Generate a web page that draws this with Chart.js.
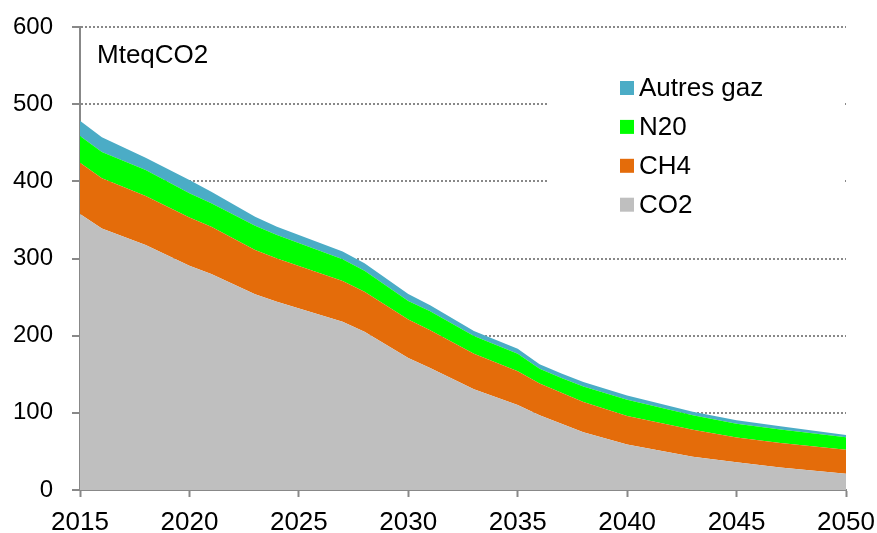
<!DOCTYPE html>
<html>
<head>
<meta charset="utf-8">
<script src="https://cdn.jsdelivr.net/npm/chart.js@4"></script>
<style>
	body { margin: 0; background: #fff; }
</style>
</head>
<body>
<canvas id="graph" width="877" height="533"></canvas>
<script>
// values (MteqCO2)
const years = [2015, 2016, 2018, 2020, 2021, 2023, 2024, 2027, 2028, 2030, 2031, 2033, 2035, 2036, 2037, 2038, 2040, 2043, 2045, 2047, 2050];
const co2 = [357.6, 339, 317.5, 290.7, 280, 253.6, 244, 218, 205, 171, 158, 130.5, 110, 97, 86, 75, 59, 43, 36, 29, 21];
const ch4 = [66.4, 65, 63.5, 62.3, 61, 57.4, 56, 53, 52, 50, 49, 46, 44, 41, 40, 39, 37, 35, 32, 32, 31];
const n2o = [34.7, 34, 33.7, 31.5, 30.5, 31.5, 30.4, 28, 27, 24, 24.5, 23.1, 22.5, 19, 19, 20, 21, 19, 18, 17.5, 16.3];
const autres = [19.9, 19, 15.9, 17.2, 15.1, 11.7, 10.8, 10, 10, 9, 8, 6.6, 6.5, 6, 6, 6, 5.5, 4.5, 4.5, 4, 3];

const unitLabel = "MteqCO2";
const font = "'Liberation Sans', Arial, sans-serif";

const series = [
	{ label: "CO2", values: co2, color: "#BFBFBF" },
	{ label: "CH4", values: ch4, color: "#E46C0A" },
	{ label: "N20", values: n2o, color: "#00FF00" },
	{ label: "Autres gaz", values: autres, color: "#4BACC6" },
];

const datasets = series.map((s, i) => ({
	label: s.label,
	data: years.map((yr, j) => ({ x: yr, y: s.values[j] })),
	backgroundColor: s.color,
	borderWidth: 0,
	pointRadius: 0,
	fill: i === 0 ? "origin" : "-1",
}));

// unit label + legend box drawn over the grid
const overlay = {
	id: "overlay",
	afterDraw(chart) {
		const ctx = chart.ctx;
		ctx.save();
		ctx.fillStyle = "#fff";
		ctx.fillRect(549, 62, 294, 160);
		ctx.fillStyle = "#000";
		ctx.font = "26px " + font;
		ctx.textBaseline = "alphabetic";
		ctx.fillText(unitLabel, 97, 63);
		const order = series.slice().reverse();
		order.forEach((s, i) => {
			const base = 96 + i * 38.9;
			ctx.fillStyle = s.color;
			ctx.fillRect(620, base - 15, 14, 14);
			ctx.fillStyle = "#000";
			ctx.fillText(s.label, 639, base);
		});
		ctx.restore();
	},
};

new Chart(document.getElementById("graph"), {
	type: "line",
	data: { datasets: datasets },
	plugins: [overlay],
	options: {
		responsive: false,
		animation: false,
		layout: { padding: { top: 27, right: 31, left: 0, bottom: 0 } },
		plugins: { legend: { display: false }, tooltip: { enabled: false } },
		elements: { line: { tension: 0 } },
		scales: {
			x: {
				type: "linear",
				min: 2015,
				max: 2050,
				afterFit: (scale) => {
					scale.height = 43;
					scale.paddingLeft = 0;
					scale.paddingRight = 0;
				},
				ticks: {
					stepSize: 5,
					callback: (v) => String(v),
					color: "#000",
					font: { family: font, size: 26 },
					padding: 10,
					maxRotation: 0,
				},
				grid: { drawOnChartArea: false, drawTicks: true, tickLength: 7, tickColor: "#888", tickWidth: 2 },
				border: { color: "#888", width: 2 },
			},
			y: {
				stacked: true,
				min: 0,
				max: 600,
				afterFit: (scale) => {
					scale.width = 80;
					scale.paddingTop = 0;
					scale.paddingBottom = 0;
				},
				ticks: {
					stepSize: 100,
					color: "#000",
					font: { family: font, size: 24 },
					padding: 19,
				},
				grid: {
					color: (c) => (c.tick && c.tick.value === 0 ? "rgba(0,0,0,0)" : "#888"),
					lineWidth: 2,
					tickLength: 8,
					tickColor: "#888",
					tickWidth: 2,
					tickBorderDash: [],
				},
				border: { color: "#888", width: 2, dash: [2, 2] },
			},
		},
	},
});
</script>
</body>
</html>
